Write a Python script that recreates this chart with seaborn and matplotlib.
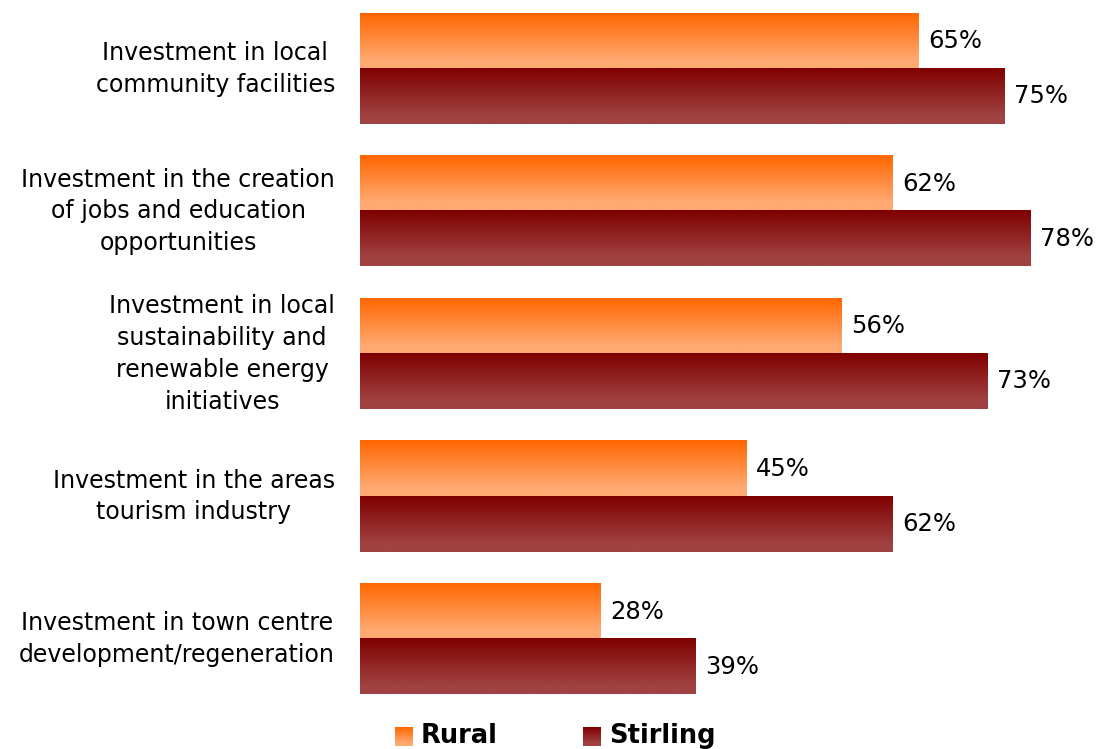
import numpy as np
import pandas as pd
import matplotlib
matplotlib.use("Agg")
import matplotlib.pyplot as plt
import seaborn as sns
from matplotlib.colors import to_rgb

categories = [
    "Investment in local\ncommunity facilities",
    "Investment in the creation\nof jobs and education\nopportunities",
    "Investment in local\nsustainability and\nrenewable energy\ninitiatives",
    "Investment in the areas\ntourism industry",
    "Investment in town centre\ndevelopment/regeneration",
]
rural = [65, 62, 56, 45, 28]
stirling = [75, 78, 73, 62, 39]
series = ["Rural", "Stirling"]

# gradient end colours (top, bottom) per series
grad = {
    "Rural": ("#ff6600", "#ffaa72"),
    "Stirling": ("#800000", "#a04242"),
}

df = pd.DataFrame({
    "category": categories * 2,
    "value": rural + stirling,
    "series": ["Rural"] * len(categories) + ["Stirling"] * len(categories),
})

sns.set_theme(style="white")
plt.rcParams["font.family"] = ["DejaVu Sans"]

W, H = 1104, 749
fig = plt.figure(figsize=(W / 100, H / 100), dpi=100)
ax = fig.add_axes([360 / W, (H - 700) / H, 744 / W, 700 / H])

sns.barplot(data=df, y="category", x="value", hue="series", order=categories,
            hue_order=series, orient="h", width=0.772, ax=ax,
            palette=[grad[s][1] for s in series], saturation=1, legend=False)

xmax = 744 / 8.59
ylo, yhi = 4.428, -0.484


def gradient_img(top, bottom, n=256):
    c0, c1 = np.array(to_rgb(top)), np.array(to_rgb(bottom))
    t = np.clip(np.linspace(0, 1, n) / 0.85, 0, 1)[:, None]
    col = c0 * (1 - t) + c1 * t
    return col[:, None, :]


# fill each bar with a vertical gradient
for container, s in zip(ax.containers, series):
    img = gradient_img(*grad[s])
    for bar in container:
        x0, y0 = bar.get_x(), bar.get_y()
        w, h = bar.get_width(), bar.get_height()
        bar.set_facecolor("none")
        bar.set_edgecolor("none")
        ax.imshow(img, extent=(x0, x0 + w, y0 + h, y0), origin="upper",
                  aspect="auto", zorder=2, interpolation="bilinear")
    ax.bar_label(container, labels=[f"{int(v)}%" for v in container.datavalues],
                 padding=7, fontsize=17.5, color="black")

ax.set_xlim(0, xmax)
ax.set_ylim(ylo, yhi)

ax.set_xlabel("")
ax.set_ylabel("")
ax.set_xticks([])
ax.tick_params(axis="y", length=0, pad=18, labelsize=17, labelcolor="black")
for lab in ax.get_yticklabels():
    lab.set_multialignment("center")
    lab.set_linespacing(1.42)
    lab.set_verticalalignment("center")
for sp in ax.spines.values():
    sp.set_visible(False)

# legend with gradient swatches
leg_items = [("Rural", 395, 421), ("Stirling", 583, 609)]
for s, sx, tx in leg_items:
    sw = fig.add_axes([sx / W, (H - 746) / H, 18 / W, 19 / H])
    sw.imshow(gradient_img(*grad[s]), aspect="auto", interpolation="bilinear")
    sw.set_axis_off()
    fig.text(tx / W, (H - 736) / H, s, fontsize=18.5, fontweight="bold",
             va="center", ha="left", color="black")

fig.savefig("out.png", dpi=100)
